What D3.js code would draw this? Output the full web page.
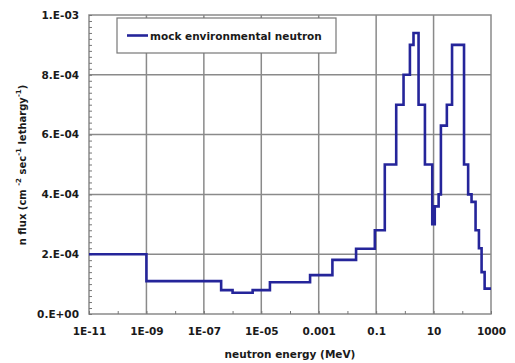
<!DOCTYPE html>
<html>
<head>
<meta charset="utf-8">
<script src="https://cdn.jsdelivr.net/npm/d3@7"></script>
<style>
  body { margin: 0; background: #fff; }
  text { font-family: "DejaVu Sans", sans-serif; font-weight: bold; fill: #1a1a1a; }
</style>
</head>
<body>
<svg id="chart" width="515" height="363"></svg>
<script>
// bin edges (MeV) and flux per bin
const energyEdges = [1e-11, 1e-9, 4e-7, 1e-6, 5e-6, 2e-5, 5e-4, 3e-3, 2e-2, 9e-2,
  0.2, 0.5, 0.9, 1.5, 2, 3, 5, 9, 11, 15,
  18, 29, 44, 115, 160, 210, 290, 380, 470, 600, 1000];
const fluxValues = [2.0e-4, 1.1e-4, 0.8e-4, 0.71e-4, 0.8e-4, 1.06e-4, 1.3e-4, 1.81e-4, 2.18e-4, 2.8e-4,
  5.0e-4, 7.0e-4, 8.0e-4, 9.0e-4, 9.4e-4, 7.0e-4, 5.0e-4, 3.0e-4, 3.6e-4, 4.0e-4,
  6.3e-4, 7.0e-4, 9.0e-4, 5.0e-4, 4.0e-4, 3.75e-4, 2.8e-4, 2.2e-4, 1.4e-4, 0.85e-4];

const xTickValues = [1e-11, 1e-9, 1e-7, 1e-5, 1e-3, 0.1, 10, 1000];
const xTickLabels = ["1E-11", "1E-09", "1E-07", "1E-05", "0.001", "0.1", "10", "1000"];
const yTickValues = [0, 2e-4, 4e-4, 6e-4, 8e-4, 1e-3];
const yTickLabels = ["0.E+00", "2.E-04", "4.E-04", "6.E-04", "8.E-04", "1.E-03"];
const seriesName = "mock environmental neutron";

const draw = () => {
  const plot = { left: 89, right: 491, top: 15, bottom: 314 };
  const svg = d3.select("#chart");

  const x = d3.scaleLog().domain([1e-11, 1000]).range([plot.left, plot.right]);
  const y = d3.scaleLinear().domain([0, 1e-3]).range([plot.bottom, plot.top]);

  // grid
  const grid = svg.append("g").attr("stroke", "#8a8a8a").attr("stroke-width", 1.5);
  grid.selectAll(".vg").data(xTickValues.slice(1, -1)).enter().append("line")
    .attr("x1", d => x(d)).attr("x2", d => x(d))
    .attr("y1", plot.top).attr("y2", plot.bottom);
  grid.selectAll(".hg").data(yTickValues.slice(1, -1)).enter().append("line")
    .attr("x1", plot.left).attr("x2", plot.right)
    .attr("y1", d => y(d)).attr("y2", d => y(d));

  // frame
  svg.append("rect")
    .attr("x", plot.left).attr("y", plot.top)
    .attr("width", plot.right - plot.left).attr("height", plot.bottom - plot.top)
    .attr("fill", "none").attr("stroke", "#8a8a8a").attr("stroke-width", 1.5);

  // minor ticks
  const yMinor = d3.axisLeft(y).tickValues(d3.range(0, 1.0001e-3, 2e-5)).tickSize(-3).tickFormat("");
  svg.append("g").attr("transform", `translate(${plot.left},0)`).call(yMinor)
    .call(g => g.select(".domain").remove())
    .selectAll("line").attr("stroke", "#777");
  const xMinor = d3.axisBottom(x).tickValues(x.ticks()).tickSize(-3).tickFormat("");
  svg.append("g").attr("transform", `translate(0,${plot.bottom})`).call(xMinor)
    .call(g => g.select(".domain").remove())
    .selectAll("line").attr("stroke", "#777");

  // tick labels
  const xAxis = d3.axisBottom(x).tickValues(xTickValues)
    .tickFormat((d, i) => xTickLabels[i]).tickSize(0).tickPadding(0);
  svg.append("g").attr("transform", `translate(0,${plot.bottom + 14})`).call(xAxis)
    .call(g => g.select(".domain").remove())
    .selectAll("text").attr("font-size", 10.5).attr("font-family", null).attr("fill", "#1a1a1a");

  const yAxis = d3.axisLeft(y).tickValues(yTickValues)
    .tickFormat((d, i) => yTickLabels[i]).tickSize(0).tickPadding(0);
  svg.append("g").attr("transform", `translate(${plot.left - 10},0)`).call(yAxis)
    .call(g => g.select(".domain").remove())
    .selectAll("text").attr("font-size", 10.5).attr("font-family", null).attr("fill", "#1a1a1a");

  // step curve
  const pts = energyEdges.map((e, i) => [e, i < fluxValues.length ? fluxValues[i] : fluxValues[fluxValues.length - 1]]);
  const line = d3.line().x(d => x(d[0])).y(d => y(d[1])).curve(d3.curveStepAfter);
  svg.append("path").datum(pts)
    .attr("d", line)
    .attr("fill", "none")
    .attr("stroke", "#25259a")
    .attr("stroke-width", 2.6)
    .attr("stroke-linejoin", "miter");

  // legend
  const lg = svg.append("g");
  lg.append("rect").attr("x", 117).attr("y", 18).attr("width", 219).attr("height", 35)
    .attr("fill", "#fff").attr("stroke", "#777").attr("stroke-width", 1.2);
  lg.append("line").attr("x1", 127).attr("x2", 148).attr("y1", 35.5).attr("y2", 35.5)
    .attr("stroke", "#25259a").attr("stroke-width", 2.6);
  lg.append("text").attr("x", 150).attr("y", 39.5).attr("font-size", 10.5).text(seriesName);

  // axis titles
  svg.append("text").attr("x", 290).attr("y", 358).attr("text-anchor", "middle")
    .attr("font-size", 10.5).text("neutron energy (MeV)");

  const yt = svg.append("text").attr("text-anchor", "middle").attr("font-size", 10)
    .attr("transform", "translate(26,165) rotate(-90)");
  const parts = [["n flux (cm ", 0], ["-2", 1], [" sec", 0], ["-1", 1], [" lethargy", 0], ["-1", 1], [")", 0]];
  let up = false;
  parts.forEach(([t, sup]) => {
    const ts = yt.append("tspan").text(t);
    if (sup) { ts.attr("font-size", 7).attr("dy", -5); up = true; }
    else if (up) { ts.attr("dy", 5); up = false; }
  });
};

window.onload = draw;
</script>
</body>
</html>
